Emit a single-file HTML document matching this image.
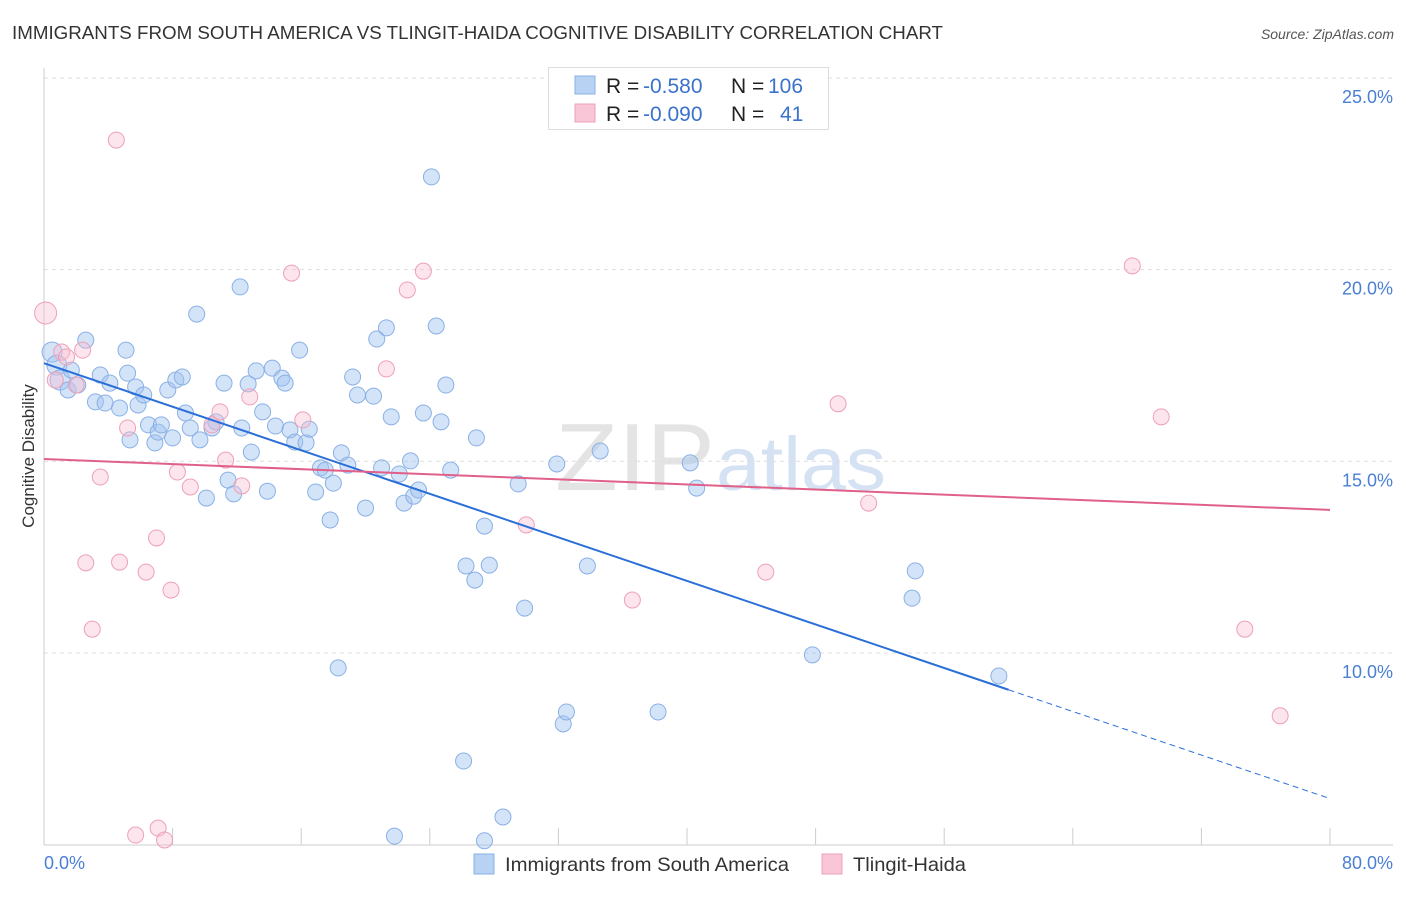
<!DOCTYPE html>
<html><head><meta charset="utf-8"><style>
body{margin:0;background:#fff;font-family:"Liberation Sans",sans-serif;}
svg text{font-family:"Liberation Sans",sans-serif;}
</style></head><body>
<svg id="chart" width="1406" height="892" xmlns="http://www.w3.org/2000/svg">
<text x="12" y="39" font-size="18" fill="#333" textLength="931" lengthAdjust="spacingAndGlyphs">IMMIGRANTS FROM SOUTH AMERICA VS TLINGIT-HAIDA COGNITIVE DISABILITY CORRELATION CHART</text>
<text x="1394" y="39" font-size="14" fill="#555" font-style="italic" text-anchor="end">Source: ZipAtlas.com</text>
<text x="555" y="490" font-size="96" fill="#e4e4e4" textLength="160" lengthAdjust="spacingAndGlyphs" font-family="Liberation Serif">ZIP</text>
<text x="716" y="490" font-size="76" fill="#d4e2f3" textLength="170" lengthAdjust="spacingAndGlyphs">atlas</text>
<g id="grid"></g>
<g id="axes"></g>
<g id="pts"></g>
<g id="lines"></g>
<text transform="translate(34,456) rotate(-90)" font-size="17" fill="#333" text-anchor="middle">Cognitive Disability</text>
<text x="44" y="869" font-size="18" fill="#4a7fd4">0.0%</text>
<text x="1393" y="869" font-size="18" fill="#4a7fd4" text-anchor="end">80.0%</text>
<g>
<rect x="548.5" y="67.5" width="280" height="62" fill="#fff" stroke="#ddd"/>
<rect x="575" y="76" width="20" height="18" fill="#b8d2f4" stroke="#8ab0e6"/>
<rect x="575" y="104" width="20" height="18" fill="#f8c6d6" stroke="#eea0b8"/>
<text x="606" y="93" font-size="21" fill="#222">R = <tspan x="643" fill="#3a72cc">-0.580</tspan><tspan x="731">N = </tspan><tspan x="768" fill="#3a72cc">106</tspan></text>
<text x="606" y="121" font-size="21" fill="#222">R = <tspan x="643" fill="#3a72cc">-0.090</tspan><tspan x="731">N = </tspan><tspan x="780" fill="#3a72cc">41</tspan></text>
</g>
<g>
<rect x="474" y="854" width="20" height="20" fill="#b8d2f4" stroke="#8ab0e6"/>
<text x="505" y="871" font-size="19.5" fill="#333" textLength="284" lengthAdjust="spacingAndGlyphs">Immigrants from South America</text>
<rect x="822" y="854" width="20" height="20" fill="#f8c6d6" stroke="#eea0b8"/>
<text x="853" y="871" font-size="19.5" fill="#333" textLength="113" lengthAdjust="spacingAndGlyphs">Tlingit-Haida</text>
</g>
</svg>
<script>
const yTicks=[10,15,20,25];
const blueX=[0.5,0.8,1.0,1.5,1.7,2.1,2.6,3.2,3.5,3.8,4.1,4.7,5.1,5.2,5.35,5.7,5.85,6.2,6.5,6.9,7.1,7.3,7.7,8.0,8.2,8.6,8.8,9.1,9.5,9.7,10.1,10.45,10.7,11.2,11.45,11.8,12.2,12.3,12.7,12.9,13.2,13.6,13.9,14.2,14.4,14.8,15.0,15.3,15.6,15.9,16.3,16.5,16.9,17.2,17.5,17.8,18.0,18.3,18.5,18.9,19.2,19.5,20.0,20.5,20.7,21.0,21.3,21.6,21.8,22.1,22.4,22.8,23.0,23.3,23.6,24.1,24.4,24.7,25.0,25.3,26.1,26.25,26.8,26.9,27.4,27.7,28.55,29.5,29.9,31.9,32.3,32.5,33.8,34.6,38.2,40.2,40.6,47.8,54.0,54.2,59.4,27.4];
const blueY=[17.85,17.51,17.12,16.86,17.38,16.99,18.16,16.55,17.25,16.52,17.04,16.39,17.9,17.3,15.56,16.94,16.47,16.73,15.95,15.48,15.76,15.95,16.86,15.61,17.12,17.2,16.26,15.87,18.84,15.56,14.04,15.87,16.03,17.04,14.51,14.15,19.55,15.87,17.02,15.24,17.36,16.29,14.22,17.43,15.92,17.17,17.04,15.82,15.5,17.9,15.48,15.84,14.2,14.83,14.77,13.47,14.43,9.61,15.22,14.9,17.2,16.73,13.78,16.7,18.19,14.83,18.48,16.16,5.22,14.67,13.91,15.01,14.09,14.25,16.26,22.42,18.53,16.03,16.99,14.77,7.18,12.27,11.9,15.61,13.31,12.29,5.72,14.41,11.17,14.93,8.15,8.46,12.27,15.27,8.46,14.96,14.3,9.95,11.43,12.14,9.4,5.1];
const pinkX=[0.1,0.7,1.1,1.4,2.0,2.4,2.6,3.0,3.5,4.5,4.7,5.2,5.7,6.35,7.0,7.1,7.5,7.9,8.3,9.1,10.45,10.95,11.3,12.3,12.8,15.4,16.1,21.3,22.6,23.6,30.0,36.6,44.9,49.4,51.3,67.7,69.5,74.7,76.9];
const pinkY=[18.87,17.12,17.85,17.72,16.99,17.9,12.35,10.62,14.59,23.38,12.37,15.87,5.25,12.11,13.0,5.43,5.12,11.64,14.72,14.33,15.95,16.29,15.03,14.36,16.68,19.91,16.08,17.41,19.47,19.96,13.34,11.38,12.11,16.5,13.91,20.1,16.16,10.62,8.36];
const blueTrend=[17.56,-0.142];
const pinkTrend=[15.06,-0.0166];
const NS='http://www.w3.org/2000/svg';
const X=v=>44+v*16.075;
const Y=v=>78+(25-v)*38.33;
function mk(tag,attrs,parent){const e=document.createElementNS(NS,tag);for(const k in attrs)e.setAttribute(k,attrs[k]);document.getElementById(parent).appendChild(e);return e;}
yTicks.forEach(t=>{
 const l=mk('line',{x1:44,x2:1393,y1:Y(t),y2:Y(t),stroke:'#ddd','stroke-dasharray':'4,4'},'grid');
 
 
 const tx=mk('text',{x:1393,y:Y(t)+25,'font-size':18,fill:'#4a7fd4','text-anchor':'end'},'grid');
 tx.textContent=t.toFixed(1)+'%';
 
 
});
const ax=mk('line',{x1:44,x2:44,y1:68,y2:845,stroke:'#ccc'},'axes');


const bx=mk('line',{x1:44,x2:1393,y1:845,y2:845,stroke:'#ccc'},'axes');


for(let i=0;i<=10;i++){
 const t=mk('line',{x1:X(i*8),x2:X(i*8),y1:828,y2:845,stroke:'#ccc'},'axes');
 
 
}
blueX.forEach((v,i)=>{
 const c=mk('circle',{cx:X(v),cy:Y(blueY[i]),r:i<3?10:8,fill:'rgba(160,195,240,0.45)',stroke:'#8ab0e6','stroke-width':1},'pts');
 
 
});
pinkX.forEach((v,i)=>{
 const c=mk('circle',{cx:X(v),cy:Y(pinkY[i]),r:i==0?11:8,fill:'rgba(248,190,210,0.4)',stroke:'#eea0b8','stroke-width':1},'pts');
 
 
});
const b1=mk('line',{x1:X(0),y1:Y(blueTrend[0]),x2:X(60),y2:Y(blueTrend[0]+blueTrend[1]*60),stroke:'#2a6fd8','stroke-width':2},'lines');


const b2=mk('line',{x1:X(60),y1:Y(blueTrend[0]+blueTrend[1]*60),x2:X(80),y2:Y(blueTrend[0]+blueTrend[1]*80),stroke:'#2a6fd8','stroke-width':1,'stroke-dasharray':'6,4'},'lines');


const p1=mk('line',{x1:X(0),y1:Y(pinkTrend[0]),x2:X(80),y2:Y(pinkTrend[0]+pinkTrend[1]*80),stroke:'#e0608a','stroke-width':2},'lines');


</script>
</body></html>
